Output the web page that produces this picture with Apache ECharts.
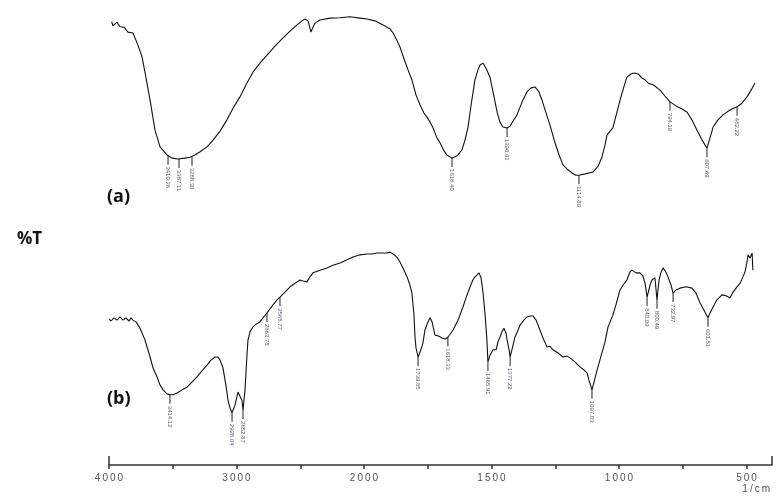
<!DOCTYPE html>
<html><head><meta charset="utf-8">
<script src="https://cdn.jsdelivr.net/npm/echarts@6/dist/echarts.min.js"></script>
<style>html,body{margin:0;padding:0;background:#fff}#c{width:776px;height:499px}</style>
</head><body><div id="c"></div>
<script>
// wavenumber (1/cm) and %T readings, trace (a)
const waveA = [3979,3969,3937,3914,3882,3851,3812,3773,3741,3718,3678,3639,3600,3545,3506,3459,3404,3365,3326,3286,3231,3184,3129,3075,3027,2973,2918,2871,2816,2761,2698,2635,2580,2526,2486,2463,2439,2424,2416,2400,2384,2345,2267,2188,2110,2031,1988,1957,1925,1898,1886,1871,1859,1839,1824,1812,1796,1780,1765,1753,1741,1729,1714,1702,1686,1675,1655,1635,1616,1604,1592,1580,1565,1553,1545,1533,1522,1506,1494,1478,1467,1455,1439,1427,1416,1400,1380,1361,1345,1329,1314,1302,1290,1271,1251,1235,1220,1200,1184,1169,1157,1133,1102,1082,1067,1055,1047,1035,1024,1008,996,980,969,953,941,925,910,898,886,863,839,820,800,776,753,733,714,694,674,655,643,631,612,592,565,537,518,498,482,467];
const tA = [98.5,97.6,98.4,97.4,97.3,96.2,96.0,93.3,90.7,87.3,81.1,74.4,70.7,68.9,68.2,68.0,68.2,68.4,68.9,69.6,70.7,72.2,74.2,76.7,79.3,81.8,84.9,87.3,89.3,91.1,93.1,94.9,96.4,97.8,98.7,99.1,98.7,97.1,96.2,97.3,98.2,98.9,99.3,99.4,99.6,99.3,99.1,98.7,97.8,96.9,96.0,94.4,92.9,89.6,87.3,85.6,82.2,80.0,78.2,77.3,76.2,74.9,72.7,71.6,69.8,68.9,68.2,68.7,70.0,72.2,75.1,80.0,85.6,87.8,88.9,89.3,88.2,86.2,82.9,78.4,76.2,75.1,74.9,75.3,76.4,77.8,80.7,82.9,83.8,84.0,82.9,81.1,78.9,75.6,71.6,68.9,66.7,65.6,64.9,64.4,64.4,64.7,65.1,66.4,68.4,71.1,73.3,74.2,74.9,78.4,81.1,84.2,86.2,86.9,87.1,86.9,86.0,85.6,84.9,84.4,83.3,82.0,80.7,79.8,79.1,78.4,76.7,74.4,72.2,70.4,72.7,75.1,76.7,77.8,78.9,79.6,80.4,81.8,83.3,84.9];
// trace (b)
const waveB = [4000,3984,3961,3937,3914,3890,3867,3843,3827,3812,3788,3757,3718,3678,3655,3624,3600,3576,3545,3522,3498,3467,3427,3388,3349,3310,3271,3231,3200,3169,3145,3129,3106,3090,3075,3067,3051,3035,3012,2988,2973,2957,2949,2933,2926,2918,2910,2894,2871,2847,2816,2792,2761,2737,2714,2682,2659,2620,2580,2541,2502,2478,2447,2424,2400,2345,2290,2243,2188,2133,2086,2031,1988,1969,1949,1929,1910,1898,1886,1871,1859,1847,1831,1820,1812,1804,1800,1796,1788,1780,1769,1761,1749,1741,1733,1722,1710,1694,1682,1671,1651,1631,1612,1596,1584,1573,1565,1557,1549,1541,1533,1525,1518,1514,1506,1494,1482,1475,1467,1459,1451,1443,1439,1431,1427,1420,1408,1396,1388,1373,1361,1349,1337,1325,1310,1298,1282,1271,1259,1239,1220,1204,1192,1173,1153,1137,1125,1118,1106,1098,1086,1075,1067,1055,1043,1035,1024,1012,996,984,969,957,949,933,918,906,898,890,878,871,859,851,843,835,827,816,808,796,788,776,761,737,714,698,682,663,651,643,631,616,596,580,565,553,537,525,514,506,498,494,486,478,475];
const tB = [32.4,32.0,32.7,32.2,32.9,32.2,32.7,32.0,32.7,32.2,31.8,30.4,27.8,24.0,21.6,19.6,17.8,16.7,15.8,15.6,15.6,16.0,16.7,17.3,18.4,19.6,20.9,22.2,23.3,24.0,24.0,23.3,21.6,18.9,16.2,14.4,12.7,11.6,13.3,16.2,15.3,14.4,12.2,16.7,20.4,24.4,27.8,29.6,30.7,31.3,31.8,32.7,33.8,34.7,35.6,36.7,37.3,38.4,39.6,40.4,41.1,40.9,40.7,41.8,42.7,43.3,43.8,44.4,44.9,45.6,46.2,46.7,46.9,46.9,47.1,47.1,47.1,47.3,46.9,46.2,45.1,43.8,41.8,40.0,38.2,33.3,28.4,26.0,24.0,25.1,27.1,30.0,31.8,32.7,31.8,28.9,28.7,28.2,28.0,28.4,30.0,32.2,35.1,37.8,39.6,41.1,41.8,42.2,42.7,41.6,38.2,33.3,27.8,22.9,24.4,25.6,25.6,27.3,28.4,29.6,30.4,29.3,27.8,25.6,24.0,25.6,28.4,30.0,31.1,32.2,32.9,33.1,33.1,32.2,30.0,28.2,26.2,26.4,25.6,24.9,24.0,24.2,23.8,22.9,21.8,21.1,20.4,18.9,16.7,18.4,21.1,23.3,24.9,27.3,30.7,31.8,33.3,35.6,38.9,40.0,41.1,42.9,43.3,42.7,42.7,42.0,40.4,37.3,40.0,41.1,41.6,36.7,41.1,42.9,43.8,42.9,41.8,40.0,38.2,38.9,39.3,39.6,39.3,38.2,36.0,34.0,32.7,33.8,35.1,36.7,37.8,37.6,37.1,38.4,39.6,40.4,41.8,42.9,45.1,46.7,46.0,47.1,43.3];
// peak annotations
const peakPosA = [3537,3451,3349,1655,1439,1157,800,655,537];
const peakTA   = [68.8,68.0,68.5,68.2,74.9,64.4,80.7,70.4,79.6];
const peakTxtA = ['3410.26','3387.11','3288.30','1618.40','1396.91','1114.89','794.19','607.69','482.22'];
const peakPosB = [3522,3035,2949,2761,2659,1788,1671,1514,1427,1106,890,851,788,651];
const peakTB   = [15.6,11.6,12.2,33.8,37.3,24.0,28.4,22.9,24.0,16.7,37.3,36.7,38.2,32.7];
const peakTxtB = ['3414.12','2928.04','2852.87','2663.78','2565.77','1739.85','1618.33','1465.91','1377.22','1097.03','840.99','800.49','732.97','601.81'];
// axis tick labels (1/cm)
const tickLabels = [4000,3000,2000,1500,1000,500];
const minorTicks = [4000,3500,3000,2500,2000,1750,1500,1250,1000,750,500];
const axisEnds = [4000,400];

// instrument scale: 2x expansion below 2000 1/cm
function toU(wn){ return wn >= 2000 ? 4000 - wn : 2000 + 2*(2000 - wn); }
function fromU(u){ return u <= 2000 ? 4000 - u : 2000 - (u - 2000)/2; }
const spaced = s => String(s).split('').join('\u2009');

function mk(pos, t, txt){
  return pos.map((p,i)=>({coord:[toU(p), t[i]], value: txt[i]}));
}
function markCfg(pos,t,txt){
  return {
    symbol:'rect', symbolSize:[1,9], symbolOffset:[0,'50%'],
    itemStyle:{color:'#222'},
    label:{show:true, position:'bottom', distance:2, rotate:-90, align:'left', verticalAlign:'middle',
      fontSize:6, color:'#5a6272', fontFamily:'Liberation Sans', formatter:p=>p.value},
    data: mk(pos,t,txt)
  };
}

const chart = echarts.init(document.getElementById('c'), null, {renderer:'canvas'});
chart.setOption({
  animation:false,
  grid:{left:109, right:4, top:15, bottom:34},
  xAxis:[{
    type:'value', min:0, max:5200,
    axisLine:{show:true, lineStyle:{color:'#333', width:1.5}},
    splitLine:{show:false},
    axisTick:{show:true, length:4, lineStyle:{color:'#333', width:1.5}, customValues: minorTicks.map(toU)},
    axisLabel:{show:true, margin:8, fontSize:10, color:'#555', fontFamily:'Liberation Sans',
      customValues: tickLabels.map(toU), formatter:v=>spaced(Math.round(fromU(v)))}
  },{
    type:'value', min:0, max:5200, position:'bottom',
    axisLine:{show:false}, splitLine:{show:false}, axisLabel:{show:false},
    axisTick:{show:true, inside:true, length:9, lineStyle:{color:'#333', width:1.5}, customValues: axisEnds.map(toU)}
  }],
  yAxis:{type:'value', min:0, max:100, show:false},
  series:[
    {type:'line', name:'(a)', showSymbol:false, symbol:'none', lineStyle:{color:'#111', width:1.1},
     data: waveA.map((w,i)=>[toU(w), tA[i]]), markPoint: markCfg(peakPosA,peakTA,peakTxtA)},
    {type:'line', name:'(b)', showSymbol:false, symbol:'none', lineStyle:{color:'#111', width:1.1},
     data: waveB.map((w,i)=>[toU(w), tB[i]]), markPoint: markCfg(peakPosB,peakTB,peakTxtB)}
  ],
  graphic:[
    {type:'text', left:17, top:231, style:{text:'%T', font:'bold 17px "Open Sans"', fill:'#111'}},
    {type:'text', left:107, top:188, style:{text:'(a)', font:'bold 18px "Open Sans"', fill:'#111'}},
    {type:'text', left:107, top:390, style:{text:'(b)', font:'bold 18px "Open Sans"', fill:'#111'}},
    {type:'text', right:6, top:484, style:{text:'1\u2009/\u2009c\u2009m', font:'10px "Liberation Sans"', fill:'#555'}}
  ]
});
</script></body></html>
